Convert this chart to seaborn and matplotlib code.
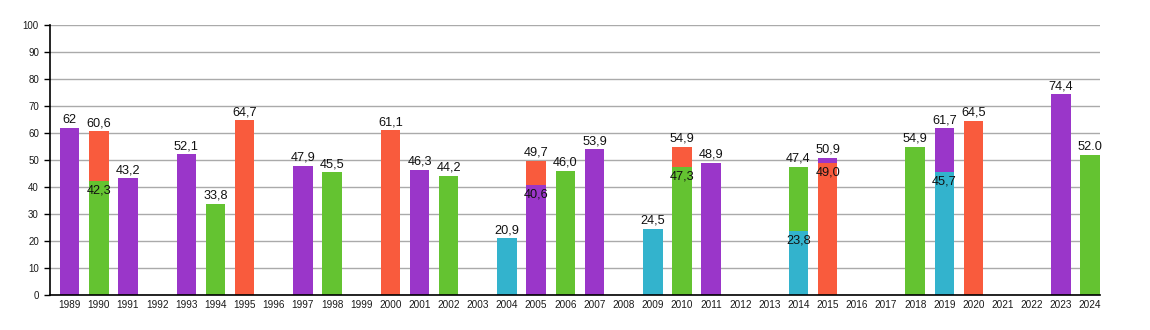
import matplotlib
matplotlib.use("Agg")
import matplotlib.pyplot as plt
import pandas as pd
import seaborn as sns

years = ["1989", "1990", "1991", "1992", "1993", "1994", "1995", "1996", "1997",
         "1998", "1999", "2000", "2001", "2002", "2003", "2004", "2005", "2006",
         "2007", "2008", "2009", "2010", "2011", "2012", "2013", "2014", "2015",
         "2016", "2017", "2018", "2019", "2020", "2021", "2022", "2023", "2024"]

purple_years = ["1989", "1991", "1993", "1997", "2001", "2005", "2007", "2011", "2015", "2019", "2023"]
purple_values = [62, 43.2, 52.1, 47.9, 46.3, 40.6, 53.9, 48.9, 50.9, 61.7, 74.4]
purple_labels = ["62", "43,2", "52,1", "47,9", "46,3", "40,6", "53,9", "48,9", "50,9", "61,7", "74,4"]

red_years = ["1990", "1995", "2000", "2005", "2010", "2015", "2020"]
red_values = [60.6, 64.7, 61.1, 49.7, 54.9, 49.0, 64.5]
red_labels = ["60,6", "64,7", "61,1", "49,7", "54,9", "49,0", "64,5"]

green_years = ["1990", "1994", "1998", "2002", "2006", "2010", "2014", "2018", "2024"]
green_values = [42.3, 33.8, 45.5, 44.2, 46.0, 47.3, 47.4, 54.9, 52.0]
green_labels = ["42,3", "33,8", "45,5", "44,2", "46,0", "47,3", "47,4", "54,9", "52.0"]

cyan_years = ["2004", "2009", "2014", "2019"]
cyan_values = [20.9, 24.5, 23.8, 45.7]
cyan_labels = ["20,9", "24,5", "23,8", "45,7"]

series_names = ["purple", "red", "green", "cyan"]
colors = {"purple": "#9A36C9", "red": "#F95B3D", "green": "#64C331", "cyan": "#33B3CD"}

rows = []
for name, ys, vs, ls in [("purple", purple_years, purple_values, purple_labels),
                         ("red", red_years, red_values, red_labels),
                         ("green", green_years, green_values, green_labels),
                         ("cyan", cyan_years, cyan_values, cyan_labels)]:
    for y, v, l in zip(ys, vs, ls):
        rows.append({"year": y, "series": name, "value": v, "label": l})
df = pd.DataFrame(rows)
df["maxv"] = df.groupby("year")["value"].transform("max")
df["layer"] = ["back" if v == m else "front" for v, m in zip(df["value"], df["maxv"])]

sns.set_theme(style="white")
plt.rcParams["font.family"] = ["Liberation Sans", "DejaVu Sans"]

fig = plt.figure(figsize=(11.5, 3.3), dpi=100)
ax = fig.add_axes([50 / 1150, 1 - 294.7 / 330, 1050 / 1150, (294.7 - 25.3) / 330])

for layer in ["back", "front"]:
    sub = df[df["layer"] == layer]
    sns.barplot(data=sub, x="year", y="value", hue="series", order=years,
                hue_order=series_names, palette=colors, dodge=False, width=0.67,
                saturation=1, errorbar=None, legend=False, ax=ax, zorder=2,
                linewidth=0, edgecolor="none")

for _, r in df.iterrows():
    x = years.index(r["year"])
    if r["layer"] == "back":
        ax.annotate(r["label"], (x, r["value"]), xytext=(0, 1.5), textcoords="offset points",
                    ha="center", va="bottom", fontsize=9.2, color="#111111", zorder=5)
    else:
        ax.annotate(r["label"], (x, r["value"]), xytext=(0, -2.5), textcoords="offset points",
                    ha="center", va="top", fontsize=9.2, color="#111111", zorder=5)

ax.set_ylim(0, 100)
ax.set_xlim(-0.676, 35.34)
ax.set_yticks(range(0, 101, 10))
ax.yaxis.grid(True, color="#aaaaaa", linewidth=1)
ax.xaxis.grid(False)
ax.set_axisbelow(True)
for s in ["top", "right"]:
    ax.spines[s].set_visible(False)
for s in ["left", "bottom"]:
    ax.spines[s].set_color("black")
    ax.spines[s].set_linewidth(1.2)
ax.tick_params(axis="y", length=4, width=1, color="black", pad=4, labelsize=7, labelcolor="#1a1a1a", left=True)
ax.tick_params(axis="x", length=0, pad=4, labelsize=7.2, labelcolor="#1a1a1a")
ax.set_xlabel("")
ax.set_ylabel("")

fig.savefig("out.png", dpi=100)
